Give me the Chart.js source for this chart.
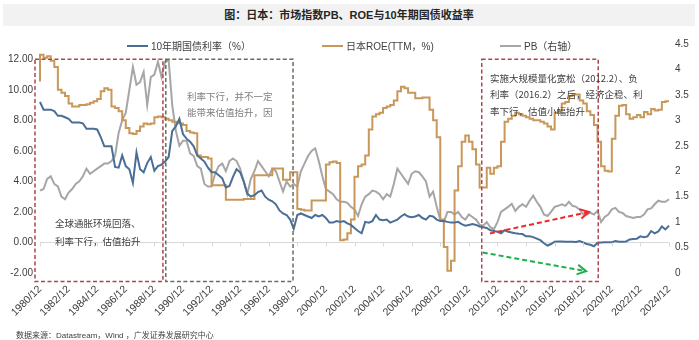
<!DOCTYPE html>
<html>
<head>
<meta charset="utf-8">
<script src="https://cdn.jsdelivr.net/npm/chart.js@4.4.1/dist/chart.umd.min.js"></script>
<style>
  html, body { margin: 0; padding: 0; background: #fff; }
  #wrap { position: relative; width: 699px; height: 340px; overflow: hidden;
          font-family: "Liberation Sans", "Noto Sans CJK SC", sans-serif; }
  #title { position: absolute; left: 3px; top: 4px; width: 692px; height: 22px; line-height: 22px;
           background: #f2f2f2; text-align: center; font-weight: bold; font-size: 11px; color: #262626; }
  #legend { position: absolute; left: 0; top: 40px; width: 699px; height: 14px; font-size: 10px; color: #404040; }
  .lg { position: absolute; top: 0; height: 14px; line-height: 14px; white-space: nowrap; }
  .lg i { display: inline-block; width: 21px; height: 2px; vertical-align: middle; margin-right: 3px; margin-top: -2px; }
  #source { position: absolute; left: 16px; top: 329px; font-size: 8px; color: #404040; white-space: nowrap; }
  canvas { position: absolute; left: 0; top: 0; }
</style>
</head>
<body>
<div id="wrap">
  <canvas id="chart" width="699" height="340"></canvas>
  <div id="title">图：日本：市场指数PB、ROE与10年期国债收益率</div>
  <div id="legend"></div>
  <div id="source">数据来源：Datastream，Wind ，广发证券发展研究中心</div>
</div>
<script>
// 季度数据：1980/12 起，每年 3、6、9、12 月
const startYear = 1980;
const endYear = 2024;

// 10年期国债利率（%），左轴
const yield10y = [
  9.2,
  8.7, 8.7, 8.7, 8.6,       // 1981
  8.3, 8.3, 8.2, 8.1,       // 1982
  7.85, 7.85, 7.85, 7.8,    // 1983
  7.45, 7.45, 7.45, 7.4,    // 1984
  6.9, 6.3, 6.3, 6.3,       // 1985
  4.95, 4.9, 5.7, 5.0,      // 1986
  4.8, 3.9, 5.9, 4.8,       // 1987
  4.6, 5.2, 5.6, 4.7,       // 1988
  5.0, 5.1, 5.3, 5.6,       // 1989
  7.3, 7.6, 8.1, 7.1,       // 1990
  6.8, 6.6, 6.3, 5.7,       // 1991
  5.5, 5.3, 4.9, 4.6,       // 1992
  4.6, 4.4, 4.2, 3.6,       // 1993
  3.7, 4.3, 4.8, 4.6,       // 1994
  4.0, 3.2, 3.0, 3.1,       // 1995
  3.3, 3.4, 3.0, 2.8,       // 1996
  2.7, 2.5, 2.1, 1.9,       // 1997
  1.8, 1.5, 0.9, 1.8,       // 1998
  1.9, 1.8, 1.7, 1.6,       // 1999
  1.8, 1.7, 1.8, 1.6,       // 2000
  1.3, 1.3, 1.4, 1.35,      // 2001
  1.4, 1.25, 1.15, 0.95,    // 2002
  0.75, 0.6, 1.35, 1.3,     // 2003
  1.4, 1.8, 1.5, 1.45,      // 2004
  1.5, 1.3, 1.4, 1.5,       // 2005
  1.7, 1.85, 1.7, 1.65,     // 2006
  1.7, 1.8, 1.6, 1.5,       // 2007
  1.75, 1.7, 1.5, 1.4,      // 2008
  1.4, 1.35, 1.3, 1.3,      // 2009
  1.35, 1.2, 1.1, 1.15,     // 2010
  1.2, 1.15, 1.05, 1.0,     // 2011
  0.95, 0.8, 0.75, 0.7,     // 2012
  0.6, 0.8, 0.7, 0.65,      // 2013
  0.6, 0.57, 0.55, 0.4,     // 2014
  0.4, 0.35, 0.25, 0.15,    // 2015
  -0.05, -0.2, -0.1, 0.05,  // 2016
  0.07, 0.07, 0.05, 0.05,   // 2017
  0.05, 0.03, 0.1, 0.0,     // 2018
  -0.1, -0.15, -0.25, -0.02,// 2019
  0.0, 0.02, 0.02, 0.02,    // 2020
  0.1, 0.05, 0.05, 0.07,    // 2021
  0.2, 0.23, 0.25, 0.4,     // 2022
  0.35, 0.4, 0.75, 0.6,     // 2023
  0.72, 1.05, 0.85, 1.1     // 2024
];

// 日本ROE(TTM，%)，左轴
const roeTTM = [
  10.55,
  12.3, 12.1, 12.2, 11.9,   // 1981
  11.5, 10.0, 9.8, 9.6,     // 1982
  9.1, 8.9, 8.9, 9.0,       // 1983
  9.0, 9.05, 9.15, 9.25,    // 1984
  9.4, 9.9, 10.1, 10.0,     // 1985
  8.9, 8.8, 8.6, 8.0,       // 1986
  7.5, 7.15, 7.1, 7.3,      // 1987
  7.6, 7.8, 7.75, 7.8,      // 1988
  8.2, 8.25, 8.2, 8.1,      // 1989
  8.0, 7.9, 7.85, 7.8,      // 1990
  7.7, 7.3, 7.2, 7.15,      // 1991
  5.7, 5.6, 5.6, 5.5,       // 1992
  3.75, 3.75, 3.75, 3.75,   // 1993
  2.8, 2.8, 2.8, 2.8,       // 1994
  2.8, 2.85, 2.85, 2.85,    // 1995
  4.4, 4.4, 4.4, 4.4,       // 1996
  4.4, 4.85, 4.85, 4.85,    // 1997
  4.1, 4.1, 4.6, 4.6,       // 1998
  2.2, 2.15, 2.1, 2.1,      // 1999
  2.75, 2.75, 2.75, 2.75,   // 2000
  5.1, 5.25, 5.3, 5.2,      // 2001
  0.15, 0.2, 0.6, 1.5,      // 2002
  4.3, 5.0, 5.1, 5.7,       // 2003
  7.4, 8.25, 8.4, 8.5,      // 2004
  8.8, 8.9, 9.0, 9.3,       // 2005
  9.9, 10.2, 10.1, 9.8,     // 2006
  9.8, 9.45, 9.45, 9.5,     // 2007
  9.5, 8.7, 8.0, 6.9,       // 2008
  1.5, -0.3, -1.85, -1.2,   // 2009
  3.4, 5.0, 6.6, 7.0,       // 2010
  6.6, 6.1, 5.1, 3.6,       // 2011
  3.6, 4.9, 4.5, 4.9,       // 2012
  5.0, 6.6, 7.9, 8.1,       // 2013
  8.3, 8.5, 8.4, 8.3,       // 2014
  8.2, 8.1, 8.0, 8.0,       // 2015
  7.9, 7.8, 7.6, 7.4,       // 2016
  8.5, 8.6, 9.1, 9.2,       // 2017
  9.6, 9.7, 9.7, 9.3,       // 2018
  9.1, 8.6, 8.35, 7.7,      // 2019
  6.6, 5.0, 4.7, 4.65,      // 2020
  6.8, 8.3, 8.95, 9.0,      // 2021
  8.4, 8.1, 8.2, 8.35,      // 2022
  8.2, 8.55, 8.4, 8.75,     // 2023
  8.65, 8.7, 9.2, 9.25      // 2024
];

// PB（右轴）
const pbRatio = [
  1.62,
  1.65, 1.85, 1.9, 1.75,    // 1981
  1.7, 1.5, 1.45, 1.58,     // 1982
  1.65, 1.75, 1.8, 1.9,     // 1983
  2.05, 1.95, 2.0, 2.05,    // 1984
  2.1, 2.15, 2.15, 2.2,     // 1985
  2.3, 2.75, 3.0, 3.15,     // 1986
  3.6, 4.05, 3.7, 3.75,     // 1987
  3.95, 3.3, 3.85, 3.9,     // 1988
  4.15, 3.85, 4.15, 4.18,   // 1989
  3.3, 2.8, 2.5, 2.6,       // 1990
  2.6, 2.35, 2.3, 2.1,      // 1991
  2.05, 1.75, 1.7, 1.7,     // 1992
  1.95, 2.1, 2.15, 2.0,     // 1993
  2.2, 2.25, 2.2, 2.05,     // 1994
  1.8, 1.55, 1.85, 2.0,     // 1995
  2.2, 2.1, 2.0, 1.9,       // 1996
  2.05, 2.0, 1.8, 1.6,      // 1997
  1.8, 1.7, 1.75, 1.7,      // 1998
  2.0, 2.15, 2.3, 2.4,      // 1999
  2.45, 2.2, 1.9, 1.65,     // 2000
  1.6, 1.55, 1.45, 1.4,     // 2001
  1.4, 1.38, 1.3, 1.25,     // 2002
  1.12, 1.35, 1.5, 1.55,    // 2003
  1.62, 1.6, 1.55, 1.45,    // 2004
  1.55, 1.5, 1.75, 2.05,    // 2005
  1.95, 1.85, 1.75, 1.95,   // 2006
  2.0, 1.98, 1.9, 1.8,      // 2007
  1.5, 1.6, 1.3, 1.05,      // 2008
  1.0, 1.2, 1.2, 1.15,      // 2009
  1.2, 1.1, 1.05, 1.15,     // 2010
  1.1, 1.05, 0.95, 0.93,    // 2011
  1.0, 0.9, 0.86, 1.0,      // 2012
  1.2, 1.25, 1.3, 1.36,     // 2013
  1.22, 1.3, 1.35, 1.3,     // 2014
  1.42, 1.52, 1.4, 1.3,     // 2015
  1.15, 1.12, 1.2, 1.3,     // 2016
  1.32, 1.35, 1.32, 1.4,    // 2017
  1.32, 1.3, 1.25, 1.15,    // 2018
  1.15, 1.18, 1.15, 1.22,   // 2019
  1.0, 1.1, 1.15, 1.25,     // 2020
  1.28, 1.2, 1.18, 1.12,    // 2021
  1.1, 1.08, 1.1, 1.1,      // 2022
  1.15, 1.25, 1.27, 1.35,   // 2023
  1.42, 1.4, 1.4, 1.45      // 2024
];

// 类别标签（季末）
const labels = [startYear + '/12'];
for (let y = startYear + 1; y <= endYear; y++) {
  ['03', '06', '09', '12'].forEach(m => labels.push(y + '/' + m));
}
// 只显示偶数年的 12 月
const isTickLabel = lbl => lbl.endsWith('/12') && parseInt(lbl) % 2 === 0;

const leftTicks = [-2, 0, 2, 4, 6, 8, 10, 12];
const rightTicks = [0, 0.5, 1, 1.5, 2, 2.5, 3, 3.5, 4, 4.5];

// 注释：方框（类别索引区间，左轴数值），文字，箭头
const boxes = [
  { from: -1.4, to: 34.4, top: 12, bottom: -2.55, color: '#b0444e' },
  { from: 35.2, to: 70.8, top: 12, bottom: -2.55, color: '#6b6b5c' },
  { from: 123.6, to: 156.2, top: 12, bottom: -2.55, color: '#b0444e' }
];
const notes = [
  { at: 41.1, v: 9.6, lines: ['利率下行，并不一定', '能带来估值抬升，因'], color: '#7f7f7f', gap: 1.1 },
  { at: 4.2, v: 1.25, lines: ['全球通胀环境回落、', '利率下行，估值抬升'], color: '#404040', gap: 1.2 },
  { at: 125.9, v: 10.75, lines: ['实施大规模量化宽松（2012.2）、负', '利率（2016.2）之后，经济企稳、利', '率下行，估值小幅抬升'], color: '#404040', gap: 1.07 }
];
const arrows = [
  { x0: 125.9, v0: 0.59, x1: 153.6, v1: 2.0, color: '#f02828' },
  { x0: 123.9, v0: -0.66, x1: 152.8, v1: -1.88, color: '#1db04a' }
];

const annotationPlugin = {
  id: 'notes',
  afterDatasetsDraw(chart) {
    const { ctx } = chart;
    const x = chart.scales.x, y = chart.scales.yL;
    ctx.save();
    // 零线上的刻度
    const y0 = y.getPixelForValue(0);
    ctx.strokeStyle = '#d9d9d9';
    ctx.lineWidth = 1;
    x.ticks.forEach(t => {
      const px = Math.round(x.getPixelForValue(t.value)) + 0.5;
      ctx.beginPath(); ctx.moveTo(px, y0); ctx.lineTo(px, y0 + 4); ctx.stroke();
    });
    // 虚线方框
    ctx.lineWidth = 1.5;
    ctx.setLineDash([4, 2.5]);
    boxes.forEach(b => {
      const l = x.getPixelForValue(b.from), r = x.getPixelForValue(b.to);
      const t = y.getPixelForValue(b.top), btm = y.getPixelForValue(b.bottom);
      ctx.strokeStyle = b.color;
      ctx.strokeRect(l, t, r - l, btm - t);
    });
    // 箭头
    ctx.lineWidth = 2;
    arrows.forEach(a => {
      const xa = x.getPixelForValue(a.x0), ya = y.getPixelForValue(a.v0);
      const xb = x.getPixelForValue(a.x1), yb = y.getPixelForValue(a.v1);
      ctx.strokeStyle = a.color;
      ctx.setLineDash([5, 3]);
      ctx.beginPath(); ctx.moveTo(xa, ya); ctx.lineTo(xb, yb); ctx.stroke();
      const ang = Math.atan2(yb - ya, xb - xa);
      ctx.setLineDash([]);
      ctx.beginPath();
      ctx.moveTo(xb - 10 * Math.cos(ang - 0.5), yb - 10 * Math.sin(ang - 0.5));
      ctx.lineTo(xb, yb);
      ctx.lineTo(xb - 10 * Math.cos(ang + 0.5), yb - 10 * Math.sin(ang + 0.5));
      ctx.stroke();
    });
    // 文字
    ctx.setLineDash([]);
    ctx.font = '9.5px "Noto Sans CJK SC", sans-serif';
    ctx.textBaseline = 'middle';
    ctx.textAlign = 'left';
    notes.forEach(n => {
      ctx.fillStyle = n.color;
      n.lines.forEach((line, i) => {
        ctx.fillText(line, x.getPixelForValue(n.at), y.getPixelForValue(n.v - i * n.gap));
      });
    });
    ctx.restore();
  }
};

Chart.defaults.font.family = '"Liberation Sans", "Noto Sans CJK SC", sans-serif';
Chart.defaults.color = '#404040';

const chart = new Chart(document.getElementById('chart'), {
  type: 'line',
  data: {
    labels: labels,
    datasets: [
      { label: '10年期国债利率（%）', data: yield10y, yAxisID: 'yL',
        borderColor: '#4a6f96', borderWidth: 2, pointRadius: 0, tension: 0, order: 1 },
      { label: '日本ROE(TTM，%)', data: roeTTM, yAxisID: 'yL', stepped: 'after',
        borderColor: '#c8975a', borderWidth: 2, pointRadius: 0, order: 2 },
      { label: 'PB（右轴）', data: pbRatio, yAxisID: 'yR',
        borderColor: '#a6a6a6', borderWidth: 2, pointRadius: 0, tension: 0, order: 3 }
    ]
  },
  options: {
    responsive: false,
    animation: false,
    events: [],
    layout: { padding: { top: 44, left: 0, right: 0, bottom: 0 } },
    plugins: { legend: { display: false }, tooltip: { enabled: false } },
    scales: {
      x: {
        type: 'category',
        offset: false,
        grid: { display: false, drawTicks: false },
        border: { display: false },
        ticks: { autoSkip: false, maxRotation: 45, minRotation: 45, padding: 10,
                 font: { size: 10.5 }, color: '#404040' },
        afterBuildTicks: scale => {
          scale.ticks = scale.ticks.filter(t => isTickLabel(labels[t.value]));
        },
        afterFit: scale => { scale.height = 67; }
      },
      yL: {
        position: 'left',
        min: -2, max: 13,
        grid: {
          drawTicks: false,
          color: ctx => (ctx.tick && ctx.tick.value === 0 ? '#d9d9d9' : 'rgba(0,0,0,0)')
        },
        border: { display: false },
        ticks: { padding: 7, font: { size: 10 }, color: '#404040',
                 callback: v => Number(v).toFixed(2) },
        afterBuildTicks: scale => {
          scale.ticks = leftTicks.map(v => ({ value: v }));
        },
        afterFit: scale => { scale.width = 40; }
      },
      yR: {
        position: 'right',
        min: 0, max: 4.5,
        grid: { display: false, drawTicks: false },
        border: { display: false },
        ticks: { padding: 6, font: { size: 10 }, color: '#404040',
                 callback: v => String(v) },
        afterBuildTicks: scale => {
          scale.ticks = rightTicks.map(v => ({ value: v }));
        },
        afterFit: scale => { scale.width = 30; }
      }
    }
  },
  plugins: [annotationPlugin]
});

// 图例（HTML）
const legendPos = [127, 322, 500];
const legend = document.getElementById('legend');
chart.data.datasets.forEach((ds, i) => {
  const item = document.createElement('span');
  item.className = 'lg';
  item.style.left = legendPos[i] + 'px';
  item.innerHTML = `<i style="background:${ds.borderColor}"></i>${ds.label}`;
  legend.appendChild(item);
});
</script>
</body>
</html>
